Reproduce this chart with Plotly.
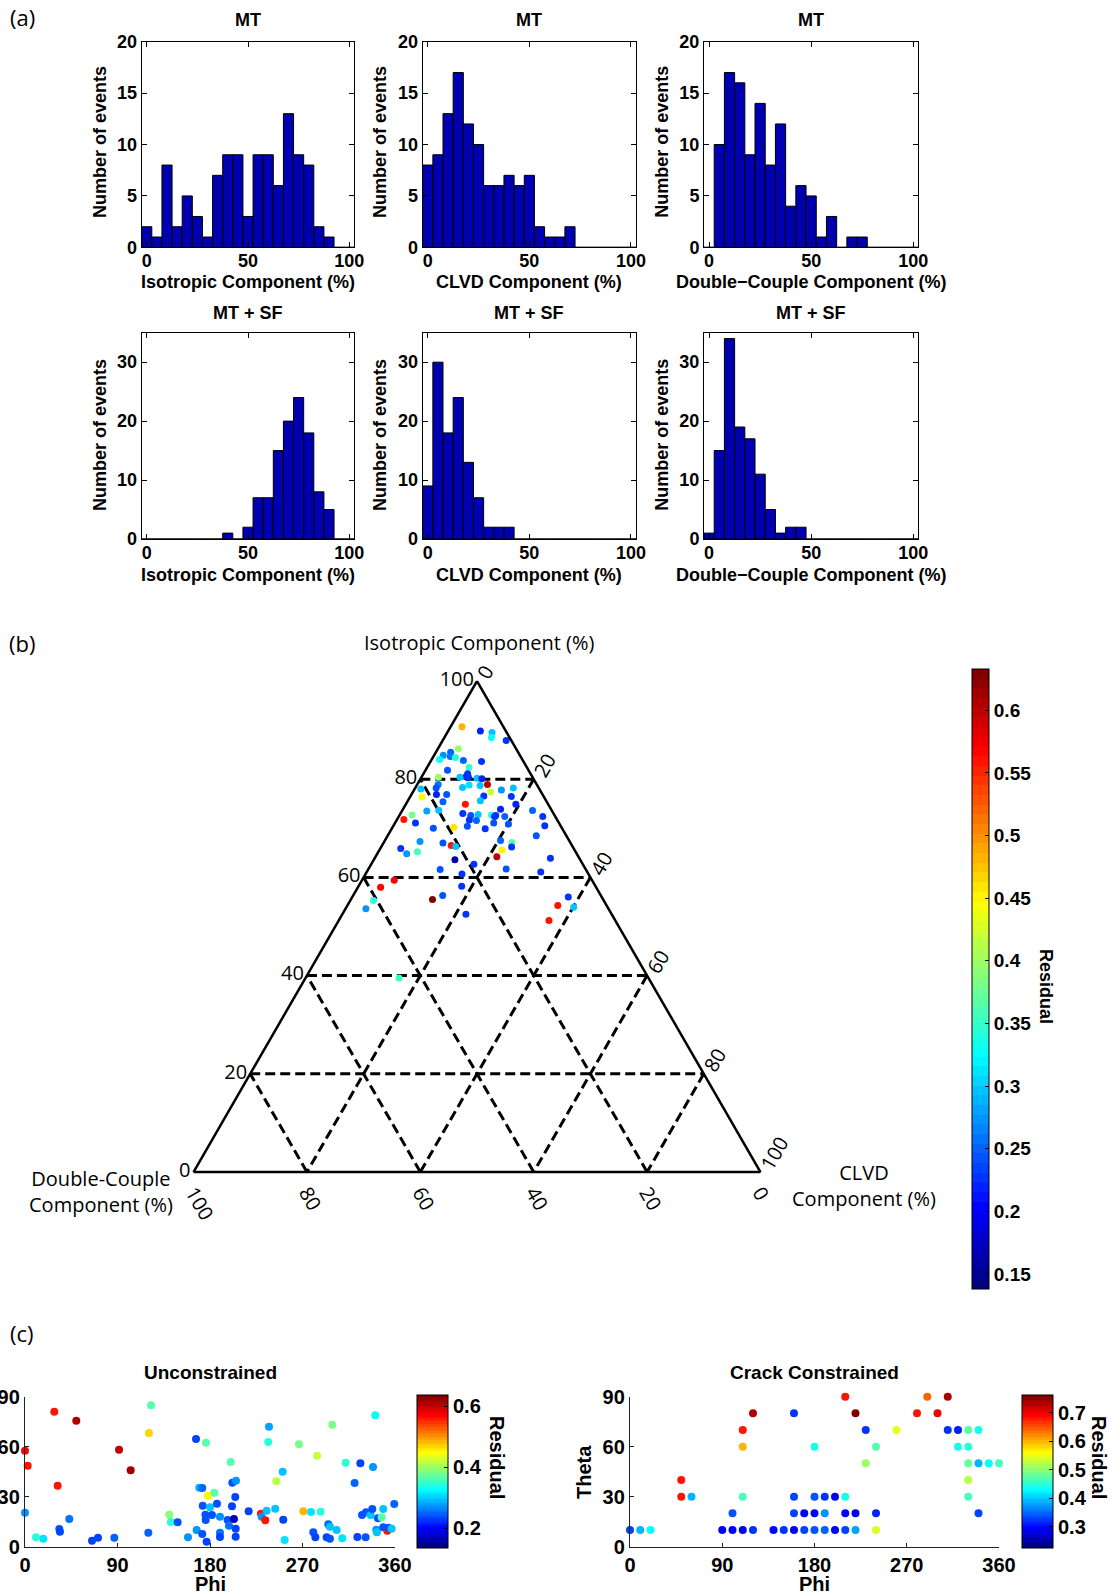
import plotly.graph_objects as go

W, H = 1112, 1596

# ---------------- data : panel (a) histograms ----------------
bin_centers = [0, 5, 10, 15, 20, 25, 30, 35, 40, 45, 50, 55, 60, 65, 70, 75, 80, 85, 90, 95, 100]
iso_mt = [2, 1, 8, 2, 5, 3, 1, 7, 9, 9, 3, 9, 9, 6, 13, 9, 8, 2, 1, 0, 0]
clvd_mt = [8, 9, 13, 17, 12, 10, 6, 6, 7, 6, 7, 2, 1, 1, 2, 0, 0, 0, 0, 0, 0]
dc_mt = [0, 10, 17, 16, 9, 14, 8, 12, 4, 6, 5, 1, 3, 0, 1, 1, 0, 0, 0, 0, 0]
iso_sf = [0, 0, 0, 0, 0, 0, 0, 0, 1, 0, 2, 7, 7, 15, 20, 24, 18, 8, 5, 0, 0]
clvd_sf = [9, 30, 18, 24, 13, 7, 2, 2, 2, 0, 0, 0, 0, 0, 0, 0, 0, 0, 0, 0, 0]
dc_sf = [1, 15, 34, 19, 17, 11, 5, 1, 2, 2, 0, 0, 0, 0, 0, 0, 0, 0, 0, 0, 0]
hist_xticks = [0, 50, 100]
top_yticks = [0, 5, 10, 15, 20]
bot_yticks = [0, 10, 20, 30]

# ---------------- data : panel (b) ternary ----------------
tern_iso = [90.7, 89.8, 89.5, 88.5, 87.9, 86.2, 85.5, 84.9, 84.6, 84.4, 84.0, 83.8, 83.6, 82.4, 81.8, 80.4,
            81.1, 80.5, 80.4, 80.4, 80.2, 80.1, 78.9, 78.3, 78.8, 78.9, 78.2, 78.7, 78.0, 78.2, 77.8, 77.4,
            76.9, 76.9, 76.6, 76.4, 76.5, 75.4, 75.6, 74.9, 74.9, 73.6, 72.4, 70.5, 72.7, 71.8, 73.5, 73.7,
            71.1, 73.0, 72.6, 72.8, 72.7, 72.4, 73.9, 72.6, 72.4, 71.6, 71.7, 70.4, 69.9, 71.1, 70.9, 70.0,
            70.2, 68.5, 65.9, 64.8, 65.2, 67.3, 67.0, 66.5, 66.3, 67.5, 67.1, 66.2, 65.6, 64.2, 63.6, 62.7,
            63.9, 61.6, 60.7, 61.7, 61.1, 59.4, 58.0, 55.3, 53.6, 55.5, 56.3, 58.2, 52.5, 56.0, 54.3, 53.9,
            51.2, 39.5]
tern_clvd = [2.0, 5.7, 7.9, 8.3, 11.2, 3.6, 2.6, 1.6, 3.0, 4.0, 1.4, 5.7, 9.0, 7.4, 3.9, 3.0,
             7.8, 7.8, 6.8, 8.3, 9.9, 10.8, 12.4, 8.3, 9.2, 3.7, 3.7, 11.2, 1.1, 17.3, 15.4, 13.7,
             4.4, 6.2, 12.9, 2.1, 17.8, 6.3, 12.8, 19.4, 10.5, 23.0, 25.4, 26.7, 2.2, 1.2, 4.4, 6.4,
             3.6, 11.0, 12.6, 13.8, 16.2, 16.9, 17.2, 17.0, 18.7, 14.1, 12.8, 13.1, 16.5, 17.4, 20.1, 7.3,
             10.8, 26.2, 3.6, 5.2, 6.9, 6.3, 10.5, 12.2, 13.1, 20.4, 22.6, 23.0, 21.6, 21.4, 14.3, 18.1,
             31.0, 12.7, 17.0, 24.3, 30.7, 5.7, 4.0, 4.1, 3.6, 14.4, 15.8, 18.2, 21.8, 38.1, 37.1, 40.1,
             37.1, 16.5]
tern_dc = [7.3, 4.5, 2.6, 3.2, 0.9, 10.2, 11.9, 13.5, 12.4, 11.6, 14.6, 10.5, 7.4, 10.2, 14.3, 16.6,
           11.1, 11.7, 12.8, 11.3, 9.9, 9.1, 8.7, 13.4, 12.0, 17.4, 18.1, 10.1, 20.9, 4.5, 6.8, 8.9,
           18.7, 16.9, 10.5, 21.5, 5.7, 18.3, 11.6, 5.7, 14.6, 3.4, 2.2, 2.8, 25.1, 27.0, 22.1, 19.9,
           25.3, 16.0, 14.8, 13.4, 11.1, 10.7, 8.9, 10.4, 8.9, 14.3, 15.5, 16.5, 13.6, 11.5, 9.0, 22.7,
           19.0, 5.3, 30.5, 30.0, 27.9, 26.4, 22.5, 21.3, 20.6, 12.1, 10.3, 10.8, 12.8, 14.4, 22.1, 19.2,
           5.1, 25.7, 22.3, 14.0, 8.2, 34.9, 38.0, 40.6, 42.8, 30.1, 27.9, 23.6, 25.7, 5.9, 8.6, 6.0,
           11.7, 44.0]
tern_res = [0.48, 0.22, 0.30, 0.33, 0.23, 0.40, 0.25, 0.27, 0.26, 0.34, 0.33, 0.25, 0.23, 0.35, 0.24, 0.40,
            0.23, 0.22, 0.30, 0.23, 0.30, 0.22, 0.60, 0.30, 0.31, 0.26, 0.24, 0.30, 0.30, 0.30, 0.27, 0.42,
            0.22, 0.24, 0.23, 0.44, 0.23, 0.25, 0.30, 0.22, 0.56, 0.25, 0.23, 0.23, 0.38, 0.56, 0.28, 0.30,
            0.23, 0.23, 0.24, 0.30, 0.34, 0.22, 0.22, 0.23, 0.25, 0.25, 0.23, 0.24, 0.23, 0.24, 0.24, 0.24,
            0.46, 0.24, 0.23, 0.27, 0.36, 0.27, 0.24, 0.56, 0.30, 0.25, 0.37, 0.23, 0.45, 0.60, 0.16, 0.23,
            0.23, 0.24, 0.23, 0.24, 0.23, 0.57, 0.57, 0.34, 0.27, 0.63, 0.24, 0.23, 0.23, 0.23, 0.56, 0.30,
            0.56, 0.35]
tern_ticks = [0, 20, 40, 60, 80, 100]
tern_cbar_ticks = [0.15, 0.2, 0.25, 0.3, 0.35, 0.4, 0.45, 0.5, 0.55, 0.6]

# ---------------- data : panel (c) ----------------
unc_phi = [0, 2.6, 0, 10.7, 17.8, 28.5, 31.8, 49.9, 33.4, 34.0, 43.1, 65.2, 71.0, 86.9, 91.5, 102.8,
           120.0, 120.6, 122.6, 140.4, 142.0, 148.5, 158.6, 166.4, 167.0, 169.6, 172.5, 172.5, 172.9, 175.5, 175.8, 176.7,
           176.1, 178.1, 180.0, 181.9, 184.2, 186.8, 189.7, 189.7, 189.7, 197.1, 198.5, 200.1, 201.4, 201.7, 203.3, 205.0,
           205.0, 204.6, 205.3, 217.6, 229.6, 230.3, 233.8, 235.1, 237.4, 236.7, 243.5, 244.5, 250.7, 251.3, 252.6, 266.6,
           270.8, 278.3, 280.5, 282.5, 284.1, 287.7, 295.1, 293.5, 296.7, 296.7, 299.0, 303.2, 308.7, 312.0, 320.7, 323.4,
           326.3, 327.9, 331.4, 331.8, 336.3, 337.9, 338.6, 340.8, 341.8, 342.4, 343.4, 347.0, 348.6, 348.6, 352.5, 353.5,
           356.7, 359.3]
unc_theta = [57.6, 48.6, 20.4, 5.6, 4.8, 81.0, 36.6, 75.6, 10.6, 9.0, 16.6, 3.6, 5.4, 5.4, 58.2, 45.8,
             8.4, 68.2, 84.8, 19.2, 14.8, 14.6, 5.6, 64.6, 10.0, 35.4, 35.2, 7.6, 24.6, 19.2, 16.0, 3.0,
             62.4, 30.6, 23.6, 19.0, 32.4, 25.8, 18.0, 8.4, 5.8, 16.0, 12.6, 50.8, 24.2, 38.4, 16.6, 10.8,
             6.0, 29.8, 39.6, 21.2, 19.8, 18.0, 15.8, 21.6, 72.0, 62.8, 22.8, 39.2, 45.0, 16.2, 4.0, 61.4,
             21.2, 20.8, 8.6, 5.6, 54.6, 21.0, 13.4, 5.6, 4.8, 12.0, 73.2, 10.0, 5.0, 50.4, 38.2, 5.8,
             50.0, 19.0, 5.6, 20.6, 19.0, 22.6, 47.8, 78.8, 10.2, 8.6, 17.0, 17.6, 22.6, 11.6, 9.6, 11.4,
             10.8, 25.6]
unc_res = [0.57, 0.56, 0.27, 0.34, 0.31, 0.56, 0.56, 0.61, 0.24, 0.23, 0.26, 0.23, 0.23, 0.25, 0.60, 0.62,
           0.25, 0.47, 0.37, 0.39, 0.34, 0.24, 0.27, 0.23, 0.27, 0.29, 0.25, 0.24, 0.24, 0.24, 0.24, 0.23,
           0.37, 0.45, 0.30, 0.24, 0.37, 0.24, 0.27, 0.26, 0.23, 0.24, 0.26, 0.37, 0.23, 0.24, 0.17, 0.23,
           0.23, 0.23, 0.27, 0.23, 0.56, 0.27, 0.56, 0.30, 0.28, 0.34, 0.30, 0.41, 0.30, 0.23, 0.31, 0.38,
           0.48, 0.31, 0.24, 0.23, 0.42, 0.34, 0.25, 0.23, 0.24, 0.30, 0.38, 0.30, 0.31, 0.34, 0.25, 0.23,
           0.23, 0.24, 0.24, 0.24, 0.30, 0.24, 0.27, 0.33, 0.27, 0.30, 0.24, 0.37, 0.30, 0.24, 0.56, 0.24,
           0.30, 0.25]

crk_phi = [0, 10, 20, 90, 100, 110, 120, 140, 150, 160, 170, 180, 190, 200, 210, 220, 240,
           100, 160, 170, 180, 190, 210, 220, 240, 340,
           50, 60, 110, 160, 180, 190, 200, 210, 330,
           50, 330,
           230, 330, 340, 350, 360,
           110, 180, 240, 320, 330,
           110, 230, 260, 310, 320, 330, 340,
           120, 160, 220, 280, 300,
           210, 290, 310]
crk_theta = [10, 10, 10, 10, 10, 10, 10, 10, 10, 10, 10, 10, 10, 10, 10, 10, 10,
             20, 20, 20, 20, 20, 20, 20, 20, 20,
             30, 30, 30, 30, 30, 30, 30, 30, 30,
             40, 40,
             50, 50, 50, 50, 50,
             60, 60, 60, 60, 60,
             70, 70, 70, 70, 70, 70, 70,
             80, 80, 80, 80, 80,
             90, 90, 90]
crk_res = [0.33, 0.39, 0.43, 0.29, 0.30, 0.30, 0.32, 0.30, 0.32, 0.30, 0.33, 0.34, 0.35, 0.30, 0.33, 0.38, 0.54,
           0.34, 0.33, 0.30, 0.30, 0.37, 0.30, 0.29, 0.31, 0.33,
           0.68, 0.39, 0.46, 0.33, 0.34, 0.32, 0.29, 0.44, 0.46,
           0.68, 0.52,
           0.51, 0.48, 0.39, 0.43, 0.46,
           0.60, 0.44, 0.47, 0.44, 0.45,
           0.68, 0.32, 0.55, 0.32, 0.31, 0.47, 0.44,
           0.73, 0.32, 0.76, 0.68, 0.70,
           0.68, 0.64, 0.73]
phi_ticks = [0, 90, 180, 270, 360]
theta_ticks = [0, 30, 60, 90]

# ---------------- styling helpers ----------------
BOLD = "Liberation Sans, Arial, Helvetica, sans-serif"
MYR = "Open Sans, Noto Sans, sans-serif"
BAR_COLOR = "#0000B0"


def px_x(x):
    return x / W


def px_y(y):
    return 1 - y / H


def jet(t):
    def cl(v):
        return min(max(v, 0.0), 1.0)
    r = cl(1.5 - abs(4 * t - 3))
    g = cl(1.5 - abs(4 * t - 2))
    b = cl(1.5 - abs(4 * t - 1))
    return "rgb(%d,%d,%d)" % (round(r * 255), round(g * 255), round(b * 255))


NJ = 64
jet_scale = []
for i in range(NJ):
    c = jet(i / (NJ - 1))
    jet_scale.append([i / NJ, c])
    jet_scale.append([(i + 1) / NJ, c])

fig = go.Figure()
annotations = []


def ann(text, x, y, size, family=BOLD, weight="bold", angle=0, xanchor="center", yanchor="middle"):
    annotations.append(dict(text=text, x=px_x(x), y=px_y(y), xref="paper", yref="paper",
                            showarrow=False, textangle=angle, xanchor=xanchor, yanchor=yanchor,
                            font=dict(family=family, size=size, color="black", weight=weight)))


# ---------------- panel (a) ----------------
cols = [(141.7, 354.3), (422.7, 636.0), (704.0, 918.3)]
rows = [(41.7, 247.3), (332.7, 539.0)]
hists = [iso_mt, clvd_mt, dc_mt, iso_sf, clvd_sf, dc_sf]
xtitles = ["Isotropic Component (%)", "CLVD Component (%)", "Double\u2212Couple Component (%)"]
ytitle_x = [100, 380, 661.7]

layout_axes = {}
for k, counts in enumerate(hists):
    r, c = divmod(k, 3)
    idx = k + 1
    xs = "x" if idx == 1 else "x%d" % idx
    ys = "y" if idx == 1 else "y%d" % idx
    fig.add_trace(go.Bar(x=bin_centers, y=counts, width=5, xaxis=xs, yaxis=ys,
                         marker=dict(color=BAR_COLOR, line=dict(color="black", width=1)),
                         showlegend=False, hoverinfo="skip"))
    x0, x1 = cols[c]
    y0, y1 = rows[r]
    axcommon = dict(showline=True, linecolor="black", linewidth=1, mirror="ticks", ticks="inside",
                    ticklen=5, tickcolor="black", showgrid=False, zeroline=False,
                    tickfont=dict(family=BOLD, size=18, color="black", weight="bold"))
    layout_axes["xaxis" if idx == 1 else "xaxis%d" % idx] = dict(
        domain=[px_x(x0), px_x(x1)], range=[-2.5, 102.5], tickvals=hist_xticks,
        anchor=ys, ticklabelstandoff=-3, **axcommon)
    layout_axes["yaxis" if idx == 1 else "yaxis%d" % idx] = dict(
        domain=[px_y(y1), px_y(y0)], range=[0, 20] if r == 0 else [0, 35],
        tickvals=top_yticks if r == 0 else bot_yticks, anchor=xs, **axcommon)
    cx = (x0 + x1) / 2
    ann("MT" if r == 0 else "MT + SF", cx, 20 if r == 0 else 312.5, 18)
    ann(xtitles[c], cx, 282 if r == 0 else 575, 18)
    ann("Number of events", ytitle_x[c], 142 if r == 0 else 435, 18, angle=-90)

# ---------------- panel (b) ternary ----------------
fig.add_trace(go.Scatterternary(
    a=tern_iso, b=tern_dc, c=tern_clvd, mode="markers", showlegend=False, hoverinfo="skip",
    marker=dict(size=7, color=tern_res, colorscale=jet_scale, cmin=0.138, cmax=0.633,
                line=dict(width=0),
                colorbar=dict(x=px_x(972), xanchor="left", y=px_y(979), yanchor="middle",
                              lenmode="pixels", len=620, thickness=17, xpad=0, ypad=0,
                              outlinecolor="black", outlinewidth=1,
                              tickvals=tern_cbar_ticks, ticks="inside", ticklen=4, tickcolor="black",
                              tickfont=dict(family=BOLD, size=19, color="black", weight="bold")))))

tern_ax = dict(tickvals=tern_ticks, showline=True, linecolor="black", linewidth=2.5,
               showgrid=True, gridcolor="black", gridwidth=2.5, griddash="10px,5px",
               ticks="", title=dict(text=""),
               tickfont=dict(family=MYR, size=20, color="black"))
ternary = dict(domain=dict(x=[px_x(189), px_x(765)], y=[px_y(1172), px_y(681)]),
               sum=100, bgcolor="white",
               aaxis=dict(**tern_ax),
               baxis=dict(tickangle=60, **tern_ax),
               caxis=dict(tickangle=-60, **tern_ax))

ann("Isotropic Component (%)", 479, 643, 20, family=MYR, weight="normal")
ann("Double-Couple<br>Component (%)", 101, 1191, 20, family=MYR, weight="normal")
ann("CLVD<br>Component (%)", 864, 1185, 20, family=MYR, weight="normal")
ann("Residual", 1046, 986, 18, angle=90)

# ---------------- panel (c) ----------------
cy0, cy1 = 1396.7, 1546.7
c_axes = dict(showline=True, linecolor="#222222", linewidth=1.3, ticks="inside", ticklen=4,
              tickcolor="#222222", showgrid=False, zeroline=False, mirror=False,
              tickfont=dict(family=BOLD, size=20, color="black", weight="bold"))

fig.add_trace(go.Scatter(
    x=unc_phi, y=unc_theta, mode="markers", xaxis="x7", yaxis="y7", showlegend=False,
    hoverinfo="skip", cliponaxis=False,
    marker=dict(size=8, color=unc_res, colorscale=jet_scale, cmin=0.136, cmax=0.636, line=dict(width=0),
                colorbar=dict(x=px_x(416.7), xanchor="left", y=px_y(1471.5), yanchor="middle",
                              lenmode="pixels", len=153, thickness=31, xpad=0, ypad=0,
                              outlinecolor="black", outlinewidth=1,
                              tickvals=[0.2, 0.4, 0.6], ticks="inside", ticklen=4, tickcolor="black",
                              tickfont=dict(family=BOLD, size=20, color="black", weight="bold")))))
fig.add_trace(go.Scatter(
    x=crk_phi, y=crk_theta, mode="markers", xaxis="x8", yaxis="y8", showlegend=False,
    hoverinfo="skip", cliponaxis=False,
    marker=dict(size=8, color=crk_res, colorscale=jet_scale, cmin=0.225, cmax=0.762, line=dict(width=0),
                colorbar=dict(x=px_x(1022), xanchor="left", y=px_y(1471.5), yanchor="middle",
                              lenmode="pixels", len=153, thickness=31, xpad=0, ypad=0,
                              outlinecolor="black", outlinewidth=1,
                              tickvals=[0.3, 0.4, 0.5, 0.6, 0.7], ticks="inside", ticklen=4, tickcolor="black",
                              tickfont=dict(family=BOLD, size=20, color="black", weight="bold")))))

layout_axes["xaxis7"] = dict(domain=[px_x(25), px_x(395)], range=[0, 360], tickvals=phi_ticks, anchor="y7", **c_axes)
layout_axes["yaxis7"] = dict(domain=[px_y(cy1), px_y(cy0)], range=[0, 90], tickvals=theta_ticks, anchor="x7", **c_axes)
layout_axes["xaxis8"] = dict(domain=[px_x(630), px_x(999)], range=[0, 360], tickvals=phi_ticks, anchor="y8", **c_axes)
layout_axes["yaxis8"] = dict(domain=[px_y(cy1), px_y(cy0)], range=[0, 90], tickvals=theta_ticks, anchor="x8", **c_axes)

ann("Unconstrained", 210, 1372, 19)
ann("Crack Constrained", 814.5, 1372, 19)
ann("Phi", 210, 1584, 20)
ann("Phi", 814.5, 1584, 20)
ann("Theta", 584, 1472, 20, angle=-90)
ann("Residual", 497, 1457, 20, angle=90)
ann("Residual", 1099, 1457, 20, angle=90)

# panel labels
ann("(a)", 22, 17, 22, family=MYR, weight="normal")
ann("(b)", 22, 643, 22, family=MYR, weight="normal")
ann("(c)", 22, 1333, 22, family=MYR, weight="normal")

fig.update_layout(width=W, height=H, margin=dict(l=0, r=0, t=0, b=0, pad=0),
                  template="none", paper_bgcolor="white", plot_bgcolor="white",
                  showlegend=False, ternary=ternary, annotations=annotations, **layout_axes)

fig.write_html("out.html", config={"displayModeBar": False},
               post_script="document.body.style.margin='0px';document.body.style.padding='0px';")
